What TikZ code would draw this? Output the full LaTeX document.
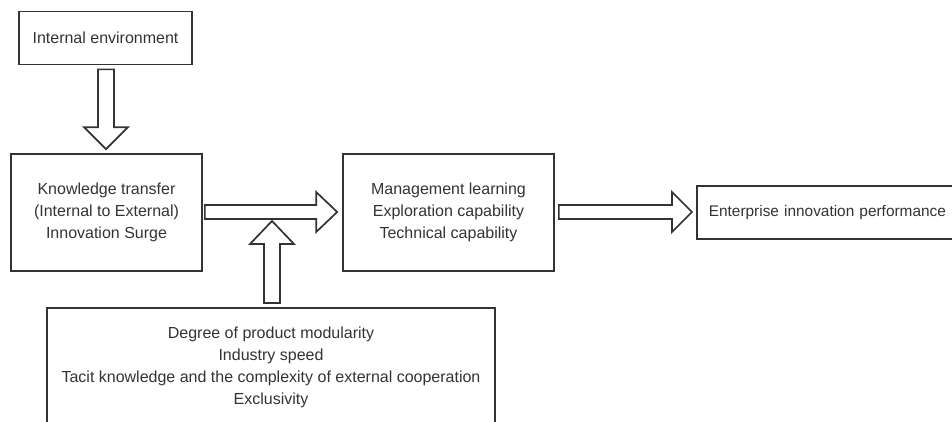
\documentclass[tikz,border=0pt]{standalone}
\usepackage{fontspec}
\setmainfont{Liberation Sans}
\usetikzlibrary{calc}
\definecolor{ink}{HTML}{333333}
\begin{document}
\begin{tikzpicture}[x=1pt,y=-1pt,
  box/.style={draw=ink,line width=1.7pt,text=ink,align=center,inner sep=0pt,
    font=\fontsize{16}{22}\selectfont},
  barrow/.style={draw=ink,line width=1.7pt,fill=white,line join=miter}]
\useasboundingbox (0,0) rectangle (952,421);
\clip (0,0) rectangle (952,421);
\node[box,minimum width=173pt,minimum height=53pt] (ie) at (105.5,38) {Internal environment};
\node[box,minimum width=191pt,minimum height=117pt] (kt) at (106.5,212.5)
  {Knowledge transfer\\(Internal to External)\\Innovation Surge};
\node[box,minimum width=211pt,minimum height=117pt] (ml) at (448.5,212.5)
  {Management learning\\Exploration capability\\Technical capability};
\node[box,minimum width=268pt,minimum height=53pt,anchor=west,text width=244pt,align=left,
  font=\fontsize{15.4}{22}\selectfont] (ep) at (696,212.5)
  {\mbox{Enterprise innovation performance}};
\node[box,minimum width=448pt,minimum height=119pt,anchor=north] (bot) at (271,307)
  {Degree of product modularity\\Industry speed\\Tacit knowledge and the complexity of external cooperation\\Exclusivity};
% down arrow
\coordinate (d1s) at ($(ie.south)+(0.5,4)$);
\coordinate (d1e) at ($(d1s |- kt.north)+(0,-4)$);
\draw[barrow] ($(d1s)+(-8,0)$) -- ($(d1e)+(-8,-22)$) -- ($(d1e)+(-22,-22)$) -- (d1e)
  -- ($(d1e)+(22,-22)$) -- ($(d1e)+(8,-22)$) -- ($(d1s)+(8,0)$) -- cycle;
% arrow kt -> ml
\coordinate (a1s) at ($(kt.east)+(2,-0.5)$);
\coordinate (a1e) at ($(ml.west)+(-5,-0.5)$);
\draw[barrow] ($(a1s)+(0,-7)$) -- ($(a1e)+(-21,-7)$) -- ($(a1e)+(-21,-20)$) -- (a1e)
  -- ($(a1e)+(-21,20)$) -- ($(a1e)+(-21,7)$) -- ($(a1s)+(0,7)$) -- cycle;
% arrow ml -> ep
\coordinate (a2s) at ($(ml.east)+(4,-0.5)$);
\coordinate (a2e) at ($(ep.west)+(-4,-0.5)$);
\draw[barrow] ($(a2s)+(0,-7)$) -- ($(a2e)+(-20,-7)$) -- ($(a2e)+(-20,-20)$) -- (a2e)
  -- ($(a2e)+(-20,20)$) -- ($(a2e)+(-20,7)$) -- ($(a2s)+(0,7)$) -- cycle;
% up arrow bot -> arrow 1
\coordinate (u1s) at ($(bot.north)+(1,-4)$);
\coordinate (u1e) at ($(u1s |- a1s)+(0,9)$);
\draw[barrow] ($(u1s)+(-8,0)$) -- ($(u1e)+(-8,23)$) -- ($(u1e)+(-22,23)$) -- (u1e)
  -- ($(u1e)+(22,23)$) -- ($(u1e)+(8,23)$) -- ($(u1s)+(8,0)$) -- cycle;
\end{tikzpicture}
\end{document}
